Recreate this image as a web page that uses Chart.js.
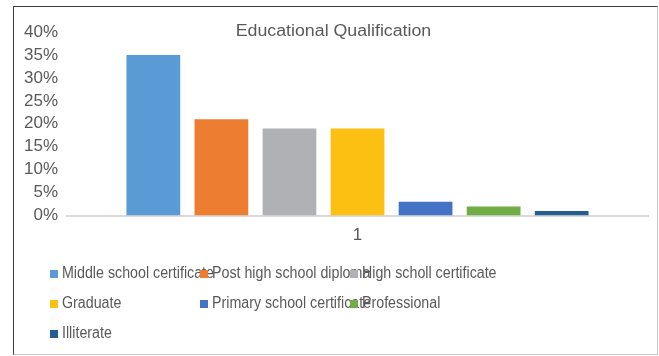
<!DOCTYPE html>
<html>
<head>
<meta charset="utf-8">
<script src="https://cdn.jsdelivr.net/npm/chart.js@4/dist/chart.umd.min.js"></script>
<style>
  html, body { margin: 0; padding: 0; background: #fff; }
  .frame {
    position: absolute; left: 13px; top: 6px; width: 643px; height: 347px;
    border-top: 1px solid #3a3a3a; border-left: 1px solid #3a3a3a;
    border-right: 1px solid #c8c8c8; border-bottom: 1px solid #c8c8c8;
  }
</style>
</head>
<body>
<div class="frame"><canvas id="chart" width="643" height="347"></canvas></div>
<script>
const TITLE = 'Educational Qualification';
const categories = ['1'];
const seriesNames = [
  'Middle school certificate',
  'Post high school diploma',
  'High scholl certificate',
  'Graduate',
  'Primary school certificate',
  'Professional',
  'Illiterate'
];
const seriesValues = [35, 21, 19, 19, 3, 2, 1];
const seriesColors = ['#5B9BD5', '#ED7D31', '#B0B1B4', '#FCC012', '#4472C4', '#70AD47', '#255E91'];
const yTicks = [0, 5, 10, 15, 20, 25, 30, 35, 40];

const FONT = 'Liberation Sans, Arial, sans-serif';
const TEXT = '#595959';

// excel-style title (overlaps plot) + fixed-column legend
const excelBits = {
  id: 'excelBits',
  afterDraw(chart) {
    const ctx = chart.ctx;
    ctx.save();
    ctx.font = '16px ' + FONT;
    ctx.fillStyle = TEXT;
    ctx.textBaseline = 'middle';
    ctx.textAlign = 'center';
    ctx.save();
    ctx.translate(chart.width / 2 - 2, 25);
    ctx.scale(1.11, 1);
    ctx.fillText(TITLE, 0, 0);
    ctx.restore();

    ctx.textAlign = 'left';
    chart.data.datasets.forEach((ds, i) => {
      const col = i % 3, row = Math.floor(i / 3);
      const x = 36 + col * 150;
      const y = 267 + row * 30;
      ctx.fillStyle = ds.backgroundColor;
      ctx.fillRect(x, y - 4, 8, 8);
      ctx.fillStyle = TEXT;
      ctx.save();
      ctx.translate(x + 12, y);
      ctx.scale(0.89, 1);
      ctx.fillText(ds.label, 0, 0);
      ctx.restore();
    });
    ctx.restore();
  }
};

new Chart(document.getElementById('chart'), {
  type: 'bar',
  data: {
    labels: categories,
    datasets: seriesNames.map((name, i) => ({
      label: name,
      data: [seriesValues[i]],
      backgroundColor: seriesColors[i],
      categoryPercentage: 0.82,
      barPercentage: 0.79
    }))
  },
  options: {
    responsive: false,
    animation: false,
    layout: { padding: { top: 25, left: 1, right: 9, bottom: 98 } },
    plugins: { legend: { display: false }, title: { display: false }, tooltip: { enabled: false } },
    scales: {
      x: {
        grid: { display: false, drawTicks: false },
        border: { display: true, color: '#d9d9d9', width: 2 },
        ticks: { color: TEXT, font: { family: FONT, size: 17 }, padding: 10 }
      },
      y: {
        min: yTicks[0],
        max: yTicks[yTicks.length - 1],
        afterBuildTicks: axis => { axis.ticks = yTicks.map(v => ({ value: v })); },
        grid: { display: false, drawTicks: false },
        border: { display: false },
        ticks: { color: TEXT, font: { family: FONT, size: 17 }, padding: 9, autoSkip: false, callback: v => v + '%' }
      }
    }
  },
  plugins: [excelBits]
});
</script>
</body>
</html>
